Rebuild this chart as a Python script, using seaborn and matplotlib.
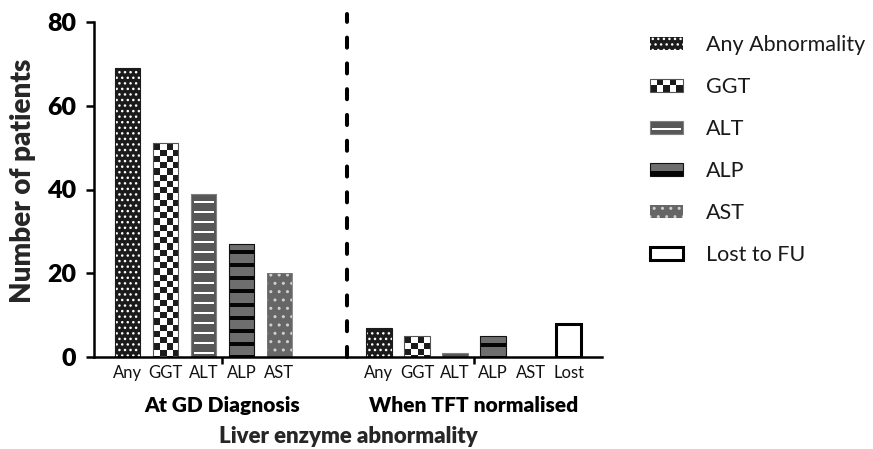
import numpy as np
import pandas as pd
import matplotlib
matplotlib.use("Agg")
import matplotlib.pyplot as plt
import seaborn as sns
from matplotlib.patches import Rectangle, Patch

# ---------------- data ----------------
categories = ["Any", "GGT", "ALT", "ALP", "AST"]
at_diagnosis = [69, 51, 39, 27, 20]
tft_normalised = [7, 5, 1, 5, 0]
lost_label = "Lost"
lost_to_fu = [8]
group_labels = ["At GD Diagnosis", "When TFT normalised"]
legend_labels = ["Any Abnormality", "GGT", "ALT", "ALP", "AST", "Lost to FU"]
yticks = [0, 20, 40, 60, 80]
y_label = "Number of patients"
x_label = "Liver enzyme abnormality"

# ---------------- style ----------------
sns.set_style("ticks")
plt.rcParams['font.family'] = ['Lato', 'DejaVu Sans']
plt.rcParams['hatch.linewidth'] = 1.0
BOLD = "heavy"

GROUP2_START = 6.62
DIVIDER_X = 5.78
BAR_W = 0.66

pos = [float(i) for i in range(len(categories))] + \
      [GROUP2_START + i for i in range(len(categories) + 1)]
kinds = categories + categories + ["Lost"]
values = at_diagnosis + tft_normalised + lost_to_fu
bar_labels = categories + categories + [lost_label]
df = pd.DataFrame({"pos": pos, "value": values, "kind": kinds})

face = {"Any": "#1b1b1b", "GGT": "#ffffff", "ALT": "#575757",
        "ALP": "#6e6e6e", "AST": "#666666", "Lost": "#ffffff"}

fig = plt.figure(figsize=(8.73, 4.49), dpi=100)
ax = fig.add_axes([94 / 873, 92 / 449, 508 / 873, 335 / 449])

sns.barplot(data=df, x="pos", y="value", hue="kind",
            hue_order=["Any", "GGT", "ALT", "ALP", "AST", "Lost"],
            palette=face, native_scale=True, dodge=False, width=BAR_W,
            saturation=1, errorbar=None, legend=False, ax=ax)

ax.set_xlim(-0.882, 12.49)
ax.set_ylim(0, 80)

pos_arr = np.array(pos)


def texture(kind, wpx, hpx):
    hpx = max(int(round(hpx)), 1)
    wpx = max(int(round(wpx)), 1)
    img = np.ones((hpx, wpx, 3))
    r = np.arange(hpx)[:, None]
    c = np.arange(wpx)[None, :]
    if kind == "GGT":
        cell = wpx / 4.0
        mask = ((np.floor(r / cell) + np.floor(c / cell)) % 2 == 0)
        img[:] = 1.0
        img[np.broadcast_to(mask, (hpx, wpx))] = 0.11
    elif kind == "ALT":
        img[:] = 0x57 / 255
        m = ((r - 8) % 10 < 2) & (r >= 8) & (c >= 3) & (c < wpx - 3)
        img[np.broadcast_to(m, (hpx, wpx))] = 1.0
    elif kind == "ALP":
        img[:] = 0x6e / 255
        m = ((r - 7) % 13 < 4) & (r >= 7) & (c >= 0)
        img[np.broadcast_to(m, (hpx, wpx))] = 0.02
    return img


border = {"Any": ("#1b1b1b", 0.8), "GGT": ("#555555", 0.8),
          "ALT": ("#808080", 0.8), "ALP": ("#111111", 0.8),
          "AST": ("#777777", 0.6), "Lost": ("#000000", 2.2)}

for p in list(ax.patches):
    cx = p.get_x() + p.get_width() / 2
    k = kinds[int(np.argmin(np.abs(pos_arr - cx)))]
    x0, y0, w, h = p.get_x(), p.get_y(), p.get_width(), p.get_height()
    if h <= 0:
        continue
    if k == "Any":
        p.set_hatch("...")
        p.set_edgecolor("white")
        p.set_linewidth(0)
    elif k == "AST":
        p.set_hatch("..")
        p.set_edgecolor("#d0d0d0")
        p.set_linewidth(0)
    elif k == "Lost":
        p.set_edgecolor("black")
        p.set_linewidth(0)
    else:
        p.set_linewidth(0)
        (px0, py0), (px1, py1) = ax.transData.transform([(x0, y0), (x0 + w, y0 + h)])
        img = texture(k, px1 - px0, py1 - py0)
        im = ax.imshow(img, extent=(x0, x0 + w, y0, y0 + h), origin="upper",
                       aspect="auto", interpolation="nearest",
                       zorder=p.get_zorder() + 0.1)
        im.set_clip_path(p)
    ec, lw = border[k]
    ax.add_patch(Rectangle((x0, y0), w, h, fill=False, edgecolor=ec,
                           linewidth=lw, zorder=p.get_zorder() + 0.2))

ax.set_xlim(-0.882, 12.49)
ax.set_ylim(0, 80)

# divider
ax.axvline(DIVIDER_X, ymin=0, ymax=81.9 / 80, color="black", lw=2.9,
           clip_on=False, dashes=(2.5, 3.9), dash_capstyle="round", zorder=3)

# spines / ticks
sns.despine(ax=ax)
for s in ("left", "bottom"):
    ax.spines[s].set_linewidth(1.8)
    ax.spines[s].set_color("black")

ax.set_yticks(yticks)
ax.set_yticklabels([str(v) for v in yticks], fontsize=18, fontweight=BOLD)
ax.tick_params(axis="y", length=6, width=1.8, pad=7, colors="black")

centers = [(pos[2] + pos[3]) / 2, (pos[7] + pos[8]) / 2]
ax.set_xticks(centers)
ax.set_xticklabels(group_labels, fontsize=15, fontweight=BOLD)
ax.set_xticks(pos, minor=True)
ax.set_xticklabels(bar_labels, minor=True, fontsize=12, color="#111111")
ax.tick_params(axis="x", which="major", length=5, width=1.8, pad=23, colors="black")
ax.tick_params(axis="x", which="minor", length=0, pad=6)

ax.set_ylabel(y_label, fontsize=20, fontweight=BOLD, labelpad=8, y=0.525)
ax.set_xlabel(x_label, fontsize=16, fontweight=BOLD, labelpad=8)


# legend
class TextureHandler:
    def __init__(self, kind):
        self.kind = kind

    def legend_artist(self, legend, orig_handle, fontsize, handlebox):
        x0, y0 = -handlebox.xdescent, -handlebox.ydescent
        w, h = handlebox.width, handlebox.height
        arts = []
        if self.kind == "GGT":
            nx, ny = 5, 2
            for i in range(nx):
                for j in range(ny):
                    col = "#1b1b1b" if (i + j) % 2 == 0 else "white"
                    arts.append(Rectangle((x0 + i * w / nx, y0 + j * h / ny),
                                          w / nx, h / ny, facecolor=col,
                                          edgecolor="none"))
            arts.append(Rectangle((x0, y0), w, h, facecolor="none",
                                  edgecolor="#555555", lw=0.8))
        elif self.kind == "ALT":
            arts.append(Rectangle((x0, y0), w, h, facecolor="#575757",
                                  edgecolor="#808080", lw=0.8))
            arts.append(Rectangle((x0 + 0.06 * w, y0 + 0.3 * h), 0.88 * w,
                                  0.15 * h, facecolor="white", edgecolor="none"))
        elif self.kind == "ALP":
            arts.append(Rectangle((x0, y0), w, h, facecolor="#6e6e6e",
                                  edgecolor="#111111", lw=0.8))
            arts.append(Rectangle((x0, y0), w, 0.35 * h, facecolor="#050505",
                                  edgecolor="none"))
        for a in arts:
            handlebox.add_artist(a)
        return arts[0]


h_any = Patch(facecolor="#1b1b1b", edgecolor="white", hatch="...", lw=0)
h_ggt = Patch(facecolor="white")
h_alt = Patch(facecolor="#575757")
h_alp = Patch(facecolor="#6e6e6e")
h_ast = Patch(facecolor="#666666", edgecolor="#d0d0d0", hatch="..", lw=0)
h_lost = Patch(facecolor="white", edgecolor="black", lw=2.2)
handles = [h_any, h_ggt, h_alt, h_alp, h_ast, h_lost]
leg = fig.legend(handles, legend_labels, loc="upper left",
                 bbox_to_anchor=(650 / 873, 1 - 35 / 449),
                 frameon=False, fontsize=15.5, handlelength=1.53,
                 handleheight=0.51, handletextpad=1.05, labelspacing=1.025,
                 borderpad=0, borderaxespad=0,
                 handler_map={h_ggt: TextureHandler("GGT"),
                              h_alt: TextureHandler("ALT"),
                              h_alp: TextureHandler("ALP")})
for t in leg.get_texts():
    t.set_color("#1a1a1a")

fig.savefig("out.png", dpi=100)
